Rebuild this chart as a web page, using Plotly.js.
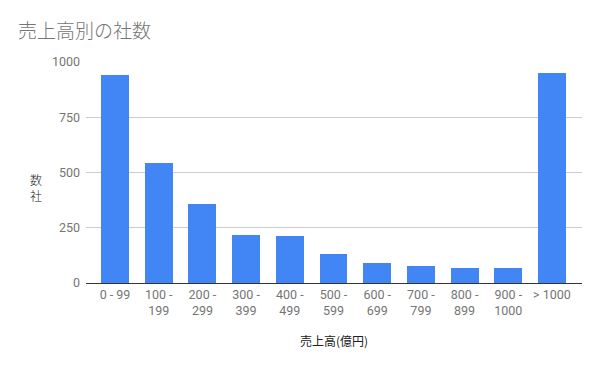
<!DOCTYPE html>
<html>
<head>
<meta charset="utf-8">
<script src="https://cdn.plot.ly/plotly-3.0.1.min.js"></script>
<style>html,body{margin:0;padding:0;background:#fff;}#chart{width:600px;height:371px;}</style>
</head>
<body>
<div id="chart"></div>
<script>
const categories = ["0 - 99","100 -<br>199","200 -<br>299","300 -<br>399","400 -<br>499","500 -<br>599","600 -<br>699","700 -<br>799","800 -<br>899","900 -<br>1000","> 1000"];
const companyCounts = [942, 543, 357, 219, 214, 133, 92, 78, 69, 69, 950];
const yTickValues = [0, 250, 500, 750, 1000];
const chartTitle = "売上高別の社数";
const xTitle = "売上高(億円)";
const yTitle = "数<br>社";

const font = "Roboto, 'Noto Sans CJK JP', sans-serif";
const cjk = "'Noto Sans CJK JP', sans-serif";

Plotly.newPlot("chart", [{
  type: "bar",
  x: categories.map((c, i) => i),
  y: companyCounts,
  width: 0.64,
  marker: {color: "#4285f4", line: {width: 0}},
  hoverinfo: "none"
}], {
  width: 600, height: 371,
  margin: {l: 86, r: 18, t: 62, b: 88},
  paper_bgcolor: "#fff", plot_bgcolor: "#fff",
  showlegend: false,
  title: {text: chartTitle, x: 0.03, xanchor: "left", y: 0.915, yanchor: "middle",
          font: {family: cjk, size: 19, color: "#757575", weight: 300}},
  xaxis: {
    range: [-0.664, 10.687],
    tickmode: "array", tickvals: categories.map((c, i) => i), ticktext: categories,
    tickfont: {family: font, size: 12.5, color: "#757575"},
    showgrid: false, zeroline: false,
    showline: true, linecolor: "#333", linewidth: 1,
    ticks: "", ticklen: 0,
    title: {text: xTitle, font: {family: cjk, size: 12, color: "#222"}, standoff: 20}
  },
  yaxis: {
    range: [0, 1000],
    tickmode: "array", tickvals: yTickValues,
    tickfont: {family: font, size: 12.5, color: "#757575"},
    ticklabelstandoff: 5,
    showgrid: true, gridcolor: "#cccccc", gridwidth: 1,
    zeroline: false, showline: false, ticks: "", ticklen: 0,
    automargin: false
  },
  annotations: [{
    text: yTitle, xref: "paper", yref: "paper", x: -0.1, y: 0.43,
    xanchor: "center", yanchor: "middle", showarrow: false,
    font: {family: cjk, size: 12, color: "#222", weight: 300}
  }],
  bargap: 0
}, {displayModeBar: false, staticPlot: true});
</script>
</body>
</html>
